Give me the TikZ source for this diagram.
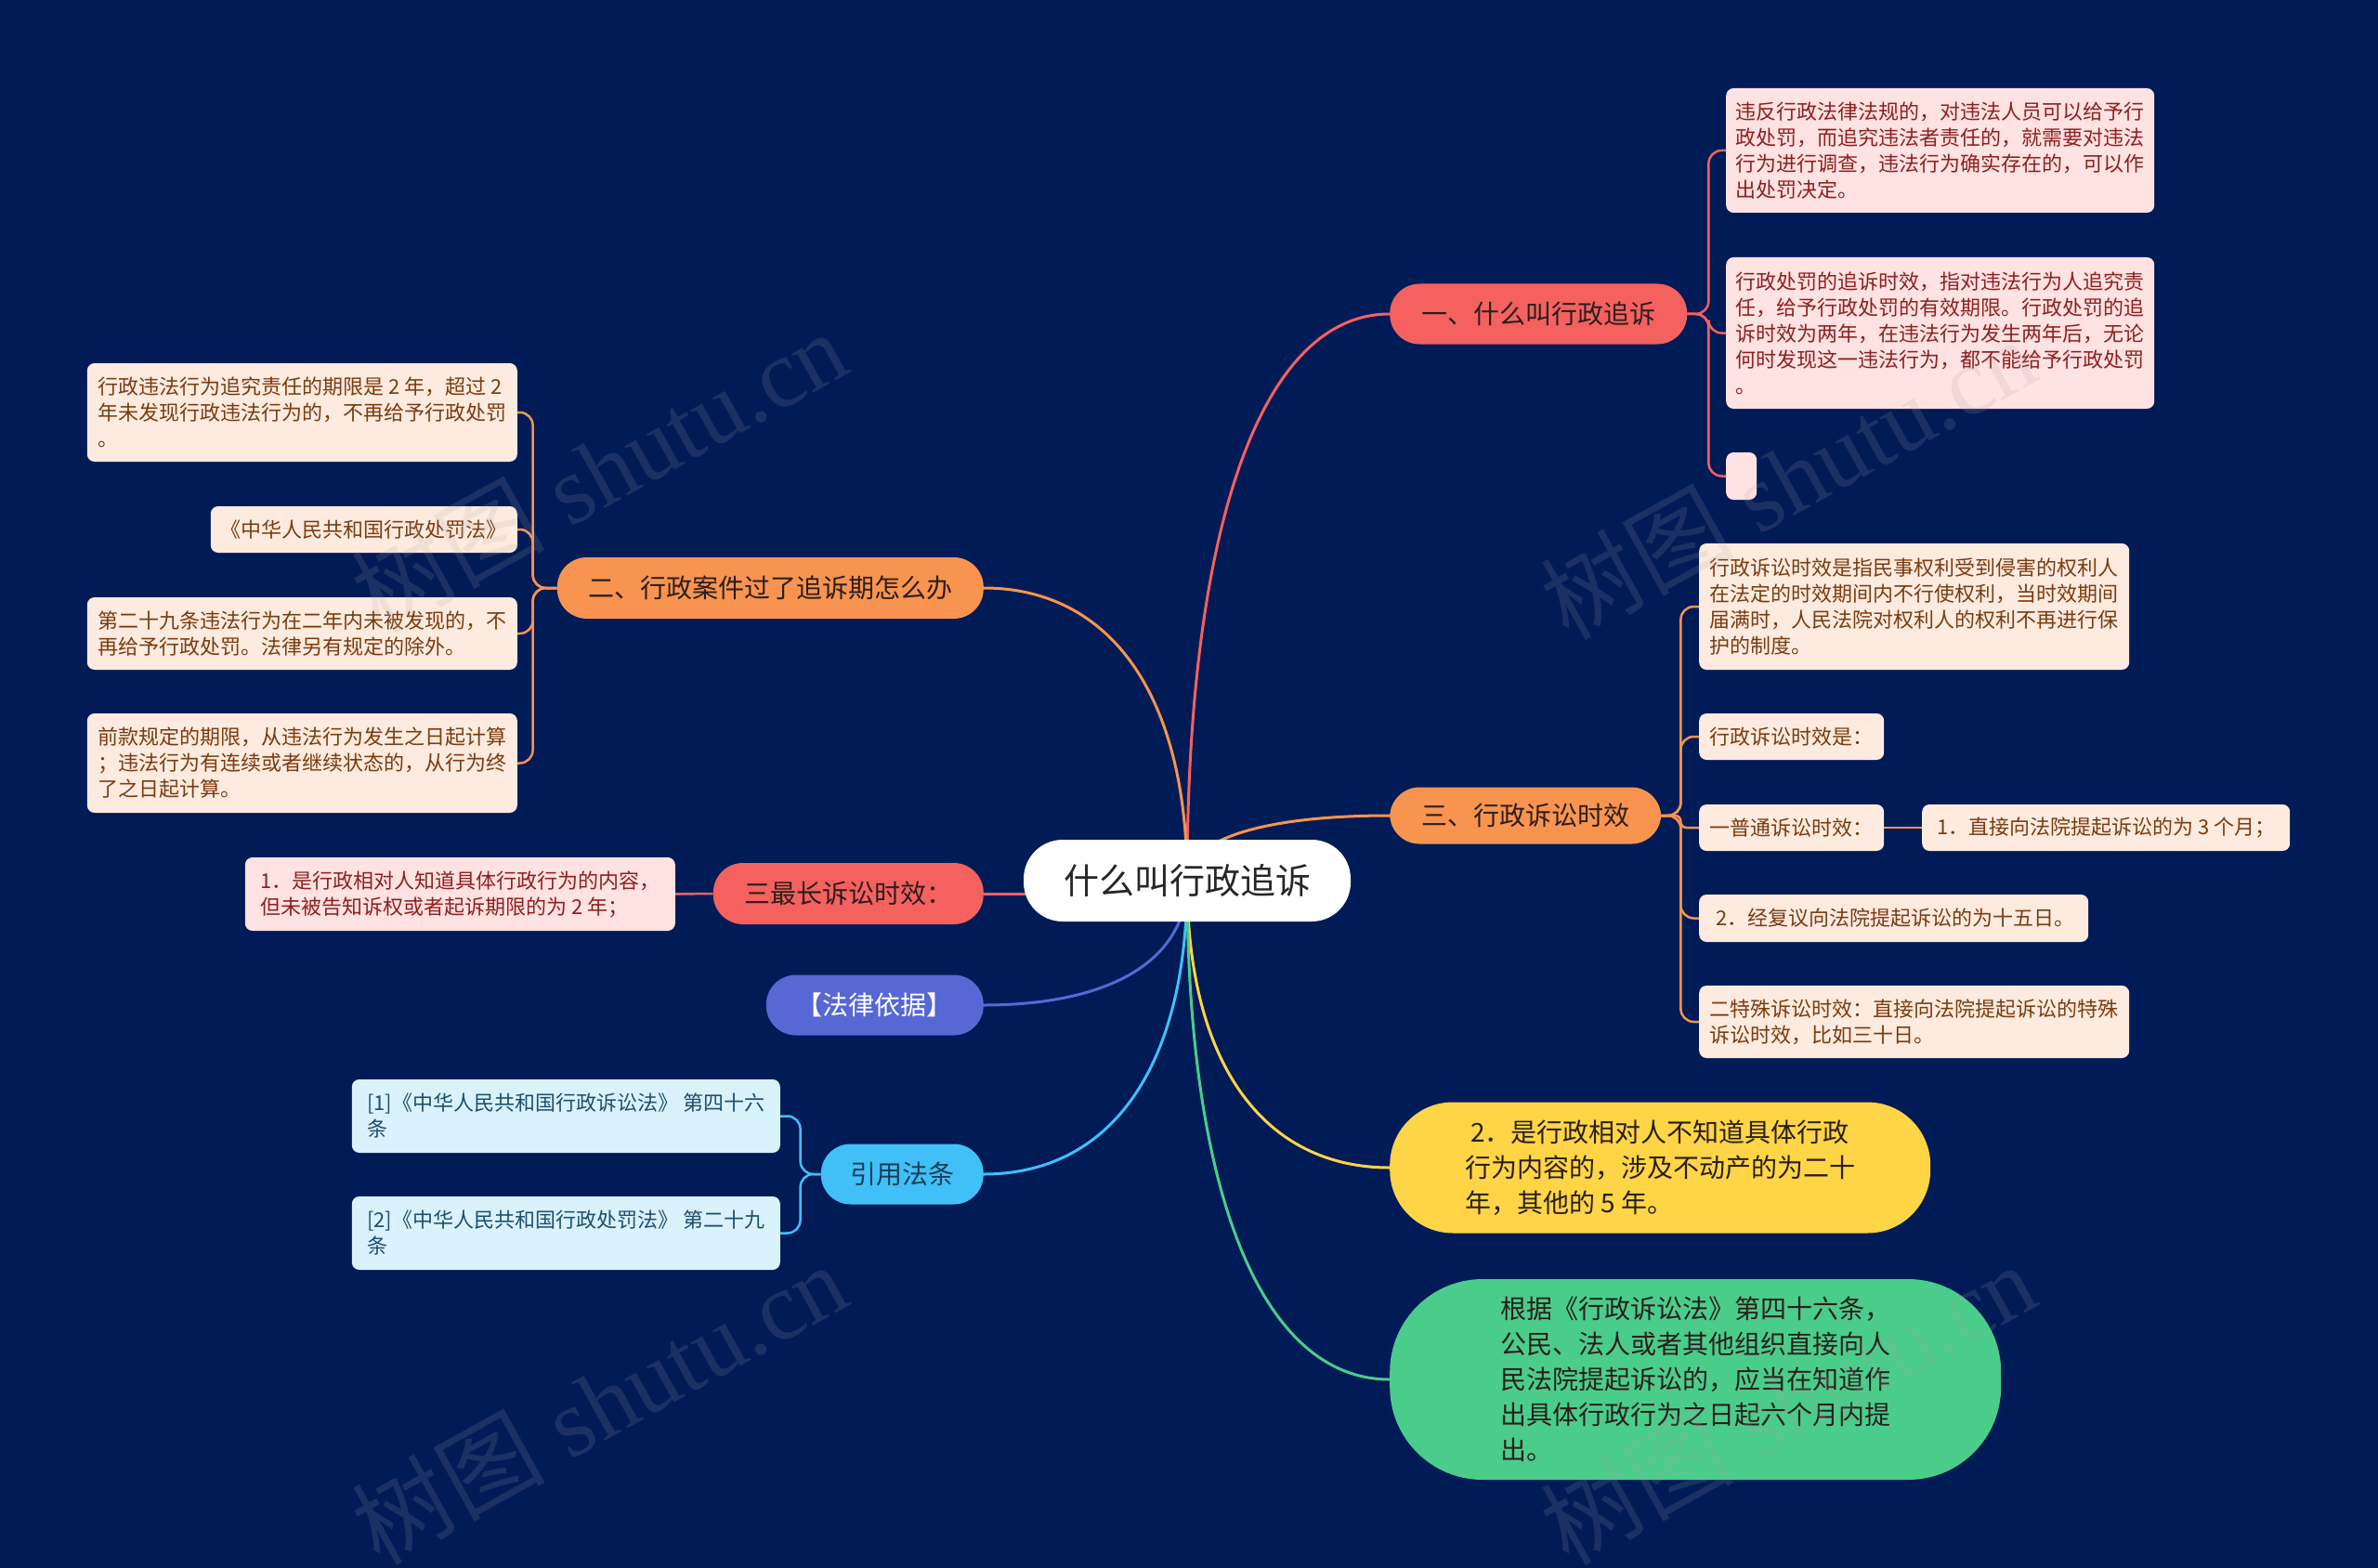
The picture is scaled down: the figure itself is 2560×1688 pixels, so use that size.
\documentclass[tikz,border=0pt]{standalone}
\usepackage{fontspec}
\setmainfont{Noto Sans CJK SC}
\newfontfamily\wmfont{Liberation Serif}
\newfontfamily\cjkfont{Noto Sans CJK SC}
\definecolor{bgnavy}{HTML}{011B57}
\definecolor{cred}{HTML}{F4615F}
\definecolor{corange}{HTML}{F8944F}
\definecolor{cpurple}{HTML}{5768D4}
\definecolor{cblue}{HTML}{40C0F6}
\definecolor{cyellow}{HTML}{FDD546}
\definecolor{cgreen}{HTML}{4ACD8B}
\definecolor{pinkfill}{HTML}{FFE2E2}
\definecolor{pinktext}{HTML}{8E1F1F}
\definecolor{peachfill}{HTML}{FDEBDF}
\definecolor{peachtext}{HTML}{7A3B10}
\definecolor{bluefill}{HTML}{DAF2FC}
\definecolor{bluetext}{HTML}{1D4E6E}
\definecolor{darktext}{HTML}{2B1E1E}
\pgfdeclarelayer{back}
\pgfdeclarelayer{lines}
\pgfsetlayers{back,lines,main}
\tikzset{
  rootnode/.style={fill=white, rounded corners=42, minimum width=352, minimum height=88,
    inner sep=0, font=\fontsize{38}{44}\selectfont, text=black!85},
  mainnode/.style={rounded corners=32, minimum height=65, inner sep=0,
    font=\fontsize{28}{34}\selectfont, text=darktext},
  bignode/.style={inner sep=0, align=left, font=\fontsize{28}{38}\selectfont},
  leafnode/.style={rounded corners=8, inner xsep=10, inner ysep=0, align=left,
    font=\fontsize{22}{28}\selectfont},
  leafpink/.style={leafnode, fill=pinkfill, text=pinktext},
  leafpeach/.style={leafnode, fill=peachfill, text=peachtext},
  leafblue/.style={leafnode, fill=bluefill, text=bluetext},
  conn/.style={line width=3, line cap=round},
  leafconn/.style={line width=2.5, rounded corners=14},
  wmark/.style={font=\wmfont\fontsize{104}{104}\selectfont, text=gray!70!white, opacity=0.16, inner sep=0}
}
\begin{document}
\begin{tikzpicture}[x=1pt,y=-1pt]
\begin{pgfonlayer}{back}
\fill[bgnavy] (0,0) rectangle (2560,1688);
\end{pgfonlayer}
\useasboundingbox (0,0) rectangle (2560,1688);

% root and main branches
\node[rootnode] (root) at (1278,948) {什么叫行政追诉};
\node[mainnode, fill=cred, minimum width=320, anchor=west] (n1) at (1496,338) {一、什么叫行政追诉};
\node[mainnode, fill=corange, minimum width=459, minimum height=66, anchor=east] (n2) at (1059,633) {二、行政案件过了追诉期怎么办};
\node[mainnode, fill=corange, minimum width=292, minimum height=61, anchor=west] (n3) at (1496,878) {三、行政诉讼时效};
\node[mainnode, fill=cred, minimum width=291, minimum height=66, anchor=east] (n4) at (1059,962) {三最长诉讼时效：};
\node[mainnode, fill=cpurple, text=white, minimum width=234, anchor=east] (n5) at (1059,1082) {【法律依据】};
\node[mainnode, fill=cblue, text=bluetext!80!black, minimum width=175, anchor=east] (n6) at (1059,1264) {引用法条};
\node[bignode, fill=cyellow, text=darktext, rounded corners=68, minimum width=582, minimum height=141, anchor=west] (n7) at (1496,1257)
  {\hspace*{6pt}2．是行政相对人不知道具体行政\\行为内容的，涉及不动产的为二十\\年，其他的 5 年。};
\node[bignode, fill=cgreen, text=darktext, rounded corners=100, minimum width=658, minimum height=216, anchor=west] (n8) at (1496,1485)
  {根据《行政诉讼法》第四十六条，\\公民、法人或者其他组织直接向人\\民法院提起诉讼的，应当在知道作\\出具体行政行为之日起六个月内提\\出。};

% leaves of n1
\node[leafpink, minimum width=461, minimum height=134, anchor=west] (l1a) at (1858,162)
  {违反行政法律法规的，对违法人员可以给予行\\政处罚，而追究违法者责任的，就需要对违法\\行为进行调查，违法行为确实存在的，可以作\\出处罚决定。};
\node[leafpink, minimum width=461, minimum height=163, anchor=west] (l1b) at (1858,358.5)
  {行政处罚的追诉时效，指对违法行为人追究责\\任，给予行政处罚的有效期限。行政处罚的追\\诉时效为两年，在违法行为发生两年后，无论\\何时发现这一违法行为，都不能给予行政处罚\\。};
\node[leafpink, inner xsep=0, minimum width=33, minimum height=51, anchor=west] (l1c) at (1858,512.5) {};

% leaves of n2
\node[leafpeach, minimum width=463, minimum height=106, anchor=east] (l2a) at (557,444)
  {行政违法行为追究责任的期限是 2 年，超过 2\\年未发现行政违法行为的，不再给予行政处罚\\。};
\node[leafpeach, minimum width=330, minimum height=50, anchor=east] (l2b) at (557,570)
  {《中华人民共和国行政处罚法》};
\node[leafpeach, minimum width=463, minimum height=78, anchor=east] (l2c) at (557,682)
  {第二十九条违法行为在二年内未被发现的，不\\再给予行政处罚。法律另有规定的除外。};
\node[leafpeach, minimum width=463, minimum height=107, anchor=east] (l2d) at (557,821.5)
  {前款规定的期限，从违法行为发生之日起计算\\；违法行为有连续或者继续状态的，从行为终\\了之日起计算。};

% leaves of n3
\node[leafpeach, minimum width=463, minimum height=136, anchor=west] (l3a) at (1829,653)
  {行政诉讼时效是指民事权利受到侵害的权利人\\在法定的时效期间内不行使权利，当时效期间\\届满时，人民法院对权利人的权利不再进行保\\护的制度。};
\node[leafpeach, minimum width=199, minimum height=50, anchor=west] (l3b) at (1829,793) {行政诉讼时效是：};
\node[leafpeach, minimum width=199, minimum height=50, anchor=west] (l3c) at (1829,891) {一普通诉讼时效：};
\node[leafpeach, minimum width=396, minimum height=50, anchor=west] (l3c1) at (2069,891) {1．直接向法院提起诉讼的为 3 个月；};
\node[leafpeach, minimum width=419, minimum height=51, anchor=west] (l3d) at (1829,988.5) {\hspace*{4pt}2．经复议向法院提起诉讼的为十五日。};
\node[leafpeach, minimum width=463, minimum height=78, anchor=west] (l3e) at (1829,1100)
  {二特殊诉讼时效：直接向法院提起诉讼的特殊\\诉讼时效，比如三十日。};

% leaf of n4
\node[leafpink, minimum width=463, minimum height=79, anchor=east] (l4a) at (727,962.5)
  {1．是行政相对人知道具体行政行为的内容，\\但未被告知诉权或者起诉期限的为 2 年；};

% leaves of n6
\node[leafblue, minimum width=461, minimum height=79, anchor=east] (l6a) at (840,1201.5)
  {[1]《中华人民共和国行政诉讼法》 第四十六\\条};
\node[leafblue, minimum width=461, minimum height=79, anchor=east] (l6b) at (840,1327.5)
  {[2]《中华人民共和国行政处罚法》 第二十九\\条};

% connectors
\begin{pgfonlayer}{lines}
\draw[conn, cred]    (root.center) .. controls +(0,-388) and +(-136,0) .. (n1.west);
\draw[conn, corange] (root.center) .. controls +(0,-200) and +(136,0) .. (n2.east);
\draw[conn, corange] (root.center) .. controls +(0,-45) and +(-135,0) .. (n3.west);
\draw[conn, cred]    (n4.east) -- (n4.east -| root.center);
\draw[conn, cpurple] (root.center) .. controls +(0,86) and +(136,0) .. (n5.east);
\draw[conn, cblue]   (root.center) .. controls +(0,202) and +(136,0) .. (n6.east);
\draw[conn, cyellow] (root.center) .. controls +(0,198) and +(-135,0) .. (n7.west);
\draw[conn, cgreen]  (root.center) .. controls +(0,344) and +(-135,0) .. (n8.west);

\draw[leafconn, cred] (n1.east) -- ++(23,0) |- (l1a.west);
\draw[leafconn, cred] (n1.east) -- ++(23,0) |- (l1b.west);
\draw[leafconn, cred] (n1.east) -- ++(23,0) |- (l1c.west);

\draw[leafconn, corange] (n2.west) -- ++(-26,0) |- (l2a.east);
\draw[leafconn, corange] (n2.west) -- ++(-26,0) |- (l2b.east);
\draw[leafconn, corange] (n2.west) -- ++(-26,0) |- (l2c.east);
\draw[leafconn, corange] (n2.west) -- ++(-26,0) |- (l2d.east);

\draw[leafconn, corange] (n3.east) -- ++(21,0) |- (l3a.west);
\draw[leafconn, corange] (n3.east) -- ++(21,0) |- (l3b.west);
\draw[leafconn, corange, rounded corners=6] (n3.east) -- ++(21,0) |- (l3c.west);
\draw[leafconn, corange] (n3.east) -- ++(21,0) |- (l3d.west);
\draw[leafconn, corange] (n3.east) -- ++(21,0) |- (l3e.west);
\draw[leafconn, corange] (l3c.east) -- (l3c1.west);

\draw[leafconn, cred] (n4.west) -- (l4a.east);

\draw[leafconn, cblue] (n6.west) -- ++(-22,0) |- (l6a.east);
\draw[leafconn, cblue] (n6.west) -- ++(-22,0) |- (l6b.east);
\end{pgfonlayer}

% watermarks
\node[wmark, rotate=29] (w1) at (645,506) {{\cjkfont 树图} shutu.cn};
\node[wmark, rotate=29] (w2) at (645,1510) {{\cjkfont 树图} shutu.cn};
\node[wmark, rotate=29] (w3) at (1925,514) {{\cjkfont 树图} shutu.cn};
\node[wmark, rotate=29] (w4) at (1925,1510) {{\cjkfont 树图} shutu.cn};
\end{tikzpicture}
\end{document}
